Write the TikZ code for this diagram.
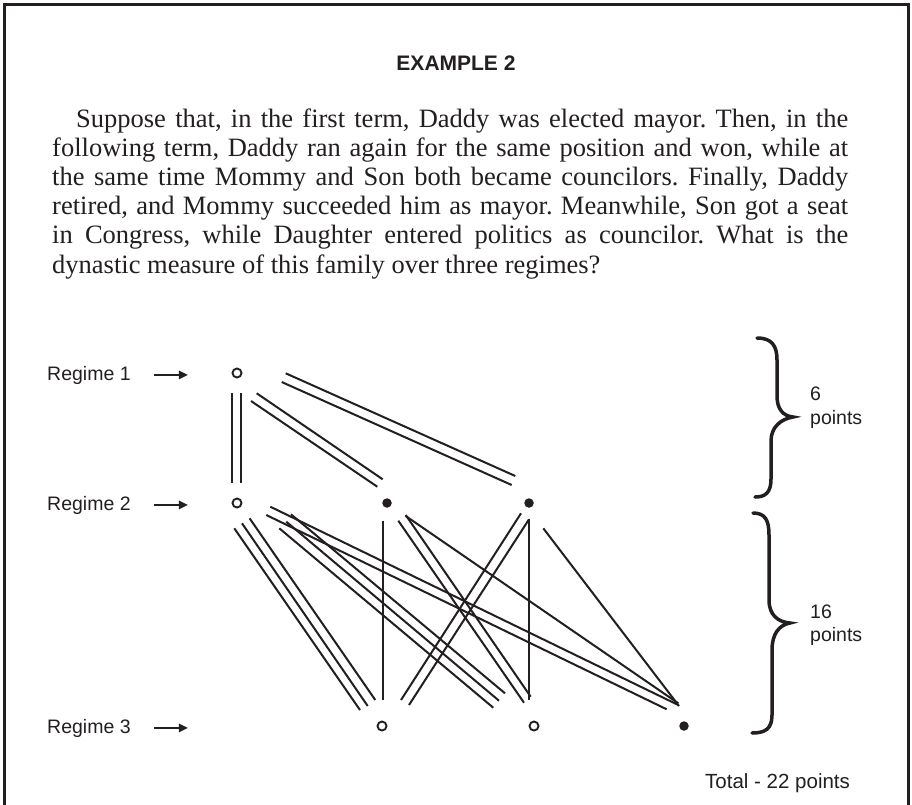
\documentclass[tikz,border=0pt]{standalone}
\usepackage{fontspec}
\setmainfont{Liberation Serif}
\newfontfamily\lsans{Liberation Sans}
\usetikzlibrary{arrows.meta,calc}
\definecolor{ink}{HTML}{231F20}
\newcommand{\jline}[1]{\makebox[796pt][s]{#1}\par}
\begin{document}
\begin{tikzpicture}[x=1pt,y=-1pt,
  opennode/.style={circle, draw=ink, line width=1.9pt, fill=white, minimum size=9pt, inner sep=0pt},
  dotnode/.style={circle, fill=ink, minimum size=9.5pt, inner sep=0pt},
  link/.style={draw=ink, line width=2pt},
  lab/.style={font=\lsans\fontsize{19.5}{23}\selectfont, text=ink, inner sep=0pt},
  arr/.style={draw=ink, line width=1.4pt, -{Triangle[length=9pt,width=8.5pt]}},
  bracepath/.style={draw=ink, line width=3.5pt, line cap=round}]
\useasboundingbox (0,0) rectangle (912,804);
\fill[white] (0,0) rectangle (912,804);
% frame
\draw[ink, line width=3pt] (4,812) -- (4,4.5) -- (908,4.5) -- (908,812);
% heading
\node[anchor=base, font=\lsans\bfseries\fontsize{21}{25}\selectfont, text=ink, inner sep=0pt] (title) at (456,70) {EXAMPLE 2};
% paragraph
\node[anchor=base west, inner sep=0pt, text=ink] (body) at (52,127) {\parbox[t]{796pt}{\fontsize{26.5}{29.2}\selectfont\frenchspacing
\jline{\hspace*{24pt}Suppose that, in the first term, Daddy was elected mayor. Then, in the}
\jline{following term, Daddy ran again for the same position and won, while at}
\jline{the same time Mommy and Son both became councilors. Finally, Daddy}
\jline{retired, and Mommy succeeded him as mayor. Meanwhile, Son got a seat}
\jline{in Congress, while Daughter entered politics as councilor. What is the}
dynastic measure of this family over three regimes?}};
% regime labels
\node[lab, anchor=base west] (R1) at (47,380) {Regime 1};
\node[lab, anchor=base west] (R2) at (47,510) {Regime 2};
\node[lab, anchor=base west] (R3) at (47,733) {Regime 3};
\draw[arr] ([xshift=23pt]R1.east) -- ++(34,0);
\draw[arr] ([xshift=23pt]R2.east) -- ++(34,0);
\draw[arr] ([xshift=23pt]R3.east) -- ++(34,0);
% nodes
\node[opennode] (D1) at (237,373) {};
\node[opennode] (D2) at (237,503) {};
\node[dotnode]  (M2) at (387,503) {};
\node[dotnode]  (S2) at (529,503) {};
\node[opennode] (M3) at (382,726) {};
\node[opennode] (S3) at (534,726) {};
\node[dotnode]  (G3) at (684,726) {};
% regime 1 -> 2
\draw[link] ($(D1)+(-4.7,20)$) -- ($(D2)+(-4.7,-20)$);
\draw[link] ($(D1)+(4.3,20)$) -- ($(D2)+(4.3,-20)$);
\draw[link] ($(D1)+(19.7,20.3)$) -- ($(M2)+(-4.3,-23.7)$);
\draw[link] ($(D1)+(14,28)$) -- ($(M2)+(-9.7,-16.3)$);
\draw[link] ($(D1)+(48.7,0.3)$) -- ($(S2)+(-13.7,-27)$);
\draw[link] ($(D1)+(44.7,9)$) -- ($(S2)+(-17.3,-18)$);
% regime 2 -> 3
\draw[link] ($(D2)+(-2.7,25.3)$) -- ($(M3)+(-22,-16)$);
\draw[link] ($(D2)+(5,20.3)$) -- ($(M3)+(-14.3,-20)$);
\draw[link] ($(D2)+(12.6,15.3)$) -- ($(M3)+(-6.7,-26)$);
\draw[link] ($(D2)+(42.3,25.3)$) -- ($(S3)+(-40.7,-18.3)$);
\draw[link] ($(D2)+(49.3,18.7)$) -- ($(S3)+(-35,-25.3)$);
\draw[link] ($(D2)+(54,11.3)$) -- ($(S3)+(-29,-32.7)$);
\draw[link] ($(D2)+(33.3,3.7)$) -- ($(G3)+(-5.7,-21)$);
\draw[link] ($(D2)+(29.3,12)$) -- ($(G3)+(-17.3,-16.7)$);
\draw[link] ($(M2)+(-4.3,17.7)$) -- ($(M3)+(0.7,-26)$);
\draw[link] ($(M2)+(11.3,17.7)$) -- ($(S3)+(-10,-23.3)$);
\draw[link] ($(M2)+(18.7,12)$) -- ($(S3)+(-3.3,-29.3)$);
\draw[link] ($(M2)+(18.7,13)$) -- ($(G3)+(-5.7,-22.7)$);
\draw[link] ($(S2)+(-8,10.3)$) -- ($(M3)+(19,-26)$);
\draw[link] ($(S2)+(0,16.3)$) -- ($(M3)+(27,-21)$);
\draw[link] ($(S2)+(0,16.3)$) -- ($(S3)+(-5,-26)$);
\draw[link] ($(S2)+(14.3,25.3)$) -- ($(G3)+(-5,-20)$);
% braces
\draw[bracepath] (757,338) .. controls (772,338) and (777,346) .. (777,360) -- (777,396) .. controls (777,409) and (783,416) .. (793,417) .. controls (781,419) and (771,427) .. (771,441) -- (771,479) .. controls (771,493) and (765,497) .. (755,497);
\draw[bracepath] (753,513) .. controls (765,513) and (769,520) .. (769,535) -- (769,600) .. controls (769,615) and (778,622) .. (790,623) .. controls (779,625) and (772,634) .. (772,650) -- (772,715) .. controls (772,729) and (765,733) .. (752,733);
% brace labels
\node[lab, anchor=base west] (p6) at (810,400) {6};
\node[lab, anchor=base west] (p6b) at (810,424) {points};
\node[lab, anchor=base west] (p16) at (810,618) {16};
\node[lab, anchor=base west] (p16b) at (810,641.5) {points};
\node[lab, anchor=base west, font=\lsans\fontsize{20.5}{24}\selectfont] (tot) at (705,788) {Total - 22 points};
\end{tikzpicture}
\end{document}
